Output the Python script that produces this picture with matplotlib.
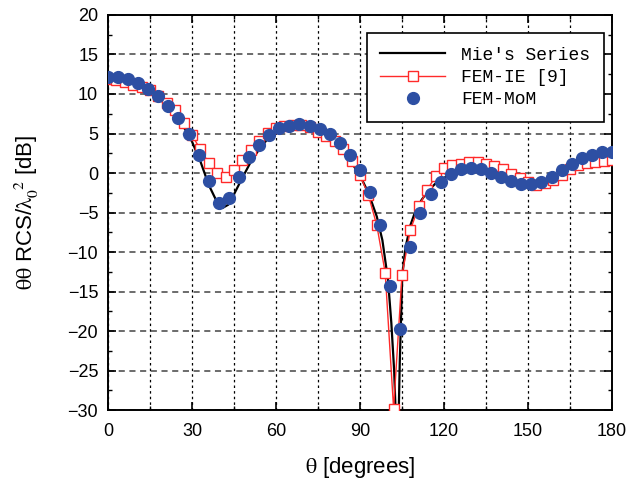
import numpy as np
import matplotlib
matplotlib.use("Agg")
import matplotlib.pyplot as plt
from matplotlib.ticker import MultipleLocator

plt.rcParams['font.family'] = 'Liberation Sans'
plt.rcParams['mathtext.fontset'] = 'stix'

# Mie's series (reference solution)
mie_theta = [0, 5, 10, 15, 20, 25, 28, 30, 33, 36, 39, 41, 43, 45, 48, 51, 54, 57,
             60, 63, 66, 69, 72, 75, 78, 81, 84, 87, 90, 93, 96, 98, 100, 101.2,
             102.2, 102.8, 103.5, 104.2, 105.1, 106.2, 108, 110, 112, 114, 117,
             120, 123, 126, 129, 132, 135, 138, 141, 144, 147, 150, 153, 156,
             159, 162, 165, 168, 171, 174, 177, 180]
mie_rcs = [12.3, 12.0, 11.4, 10.4, 8.9, 6.9, 5.3, 4.0, 1.5, -1.5, -3.7, -4.4, -4.0,
           -2.7, -0.6, 1.4, 3.0, 4.3, 5.1, 5.6, 5.85, 5.9, 5.7, 5.3, 4.7, 3.8,
           2.7, 1.3, -0.3, -2.5, -5.5, -8.5, -13.5, -19.0, -25.0, -31.0, -36.0,
           -24.0, -13.0, -9.5, -6.6, -4.6, -3.4, -2.4, -1.3, -0.6, -0.1, 0.25,
           0.4, 0.35, 0.05, -0.35, -0.8, -1.25, -1.6, -1.85, -2.0, -1.8, -1.3,
           -0.6, 0.1, 0.7, 1.15, 1.4, 1.55, 1.6]

# FEM-IE [9], every 3 degrees
ie_theta = np.arange(0, 181, 3)
ie_rcs = [11.9, 11.8, 11.55, 11.2, 10.9, 10.5, 9.75, 8.9, 7.95, 6.3, 4.8, 3.0,
          1.3, 0.0, -0.45, 0.4, 1.65, 2.9, 4.05, 5.1, 5.65, 5.95, 6.1, 6.1, 5.8,
          5.25, 4.7, 4.05, 3.0, 1.5, -0.25, -2.8, -6.6, -12.6, -29.8, -12.9,
          -7.2, -4.2, -2.15, -0.4, 0.6, 1.0, 1.2, 1.35, 1.4, 1.2, 0.9, 0.45,
          -0.1, -0.6, -1.1, -1.5, -1.3, -0.9, -0.2, 0.5, 1.0, 1.3, 1.4, 1.5, 1.6]

# FEM-MoM, every 3.6 degrees
mom_theta = np.arange(51) * 3.6
mom_rcs = [12.2, 12.1, 11.9, 11.35, 10.6, 9.7, 8.5, 6.9, 4.9, 2.3, -0.95, -3.75,
           -3.2, -0.5, 2.0, 3.6, 4.8, 5.65, 6.0, 6.2, 5.95, 5.55, 4.9, 3.75, 2.3,
           0.4, -2.4, -6.6, -14.3, -19.7, -9.3, -5.1, -2.7, -1.1, -0.15, 0.45,
           0.65, 0.45, 0.05, -0.5, -1.0, -1.4, -1.4, -1.1, -0.5, 0.4, 1.2, 1.85,
           2.3, 2.6, 2.7]

fig = plt.figure(figsize=(6.31, 4.82), dpi=100)
ax = fig.add_axes([0.171, 0.149, 0.799, 0.82])

ax.plot(mie_theta, mie_rcs, color='black', lw=1.6, label="Mie's Series", zorder=3)
ax.plot(ie_theta, ie_rcs, color='#ff2a2a', lw=1.0, marker='s', ms=7,
        mfc='white', mec='#ff2a2a', mew=1.0, label='FEM-IE [9]', zorder=4)
ax.plot(mom_theta, mom_rcs, ls='none', marker='o', ms=8.5, color='#2d4fa3',
        label='FEM-MoM', zorder=5)

ax.set_xlim(0, 180)
ax.set_ylim(-30, 20)
ax.xaxis.set_major_locator(MultipleLocator(30))
ax.xaxis.set_minor_locator(MultipleLocator(15))
ax.yaxis.set_major_locator(MultipleLocator(5))
ax.yaxis.set_minor_locator(MultipleLocator(2.5))
ax.tick_params(which='both', direction='in', top=True, right=True, labelsize=13)
ax.tick_params(which='major', length=6, width=1.2)
ax.tick_params(which='minor', length=3, width=1.0)
ax.tick_params(axis='x', which='major', pad=9)
ax.tick_params(axis='y', which='major', pad=7)

ax.grid(True, axis='x', which='both', color='black', ls=(0, (2, 2.5)), lw=0.9)
ax.grid(True, axis='y', which='major', color='#444444', ls=(0, (4, 3)), lw=1.1)
for s in ax.spines.values():
    s.set_linewidth(1.4)

ax.set_xlabel(r'$\mathrm{\theta}$ [degrees]', fontsize=16, labelpad=11)
ax.set_ylabel(r'$\mathrm{\theta\theta}$ RCS/$\mathrm{\lambda}_0^{\ \ 2}$ [dB]',
              fontsize=16, labelpad=19)

leg = ax.legend(loc='upper right', bbox_to_anchor=(0.984, 0.954), fancybox=False,
                framealpha=1, edgecolor='black', handlelength=3.6,
                handletextpad=0.9, prop={'family': 'Liberation Mono', 'size': 13},
                borderpad=0.75, labelspacing=0.3, borderaxespad=0)
leg.get_frame().set_linewidth(1.2)

plt.savefig('out.png', dpi=100)
